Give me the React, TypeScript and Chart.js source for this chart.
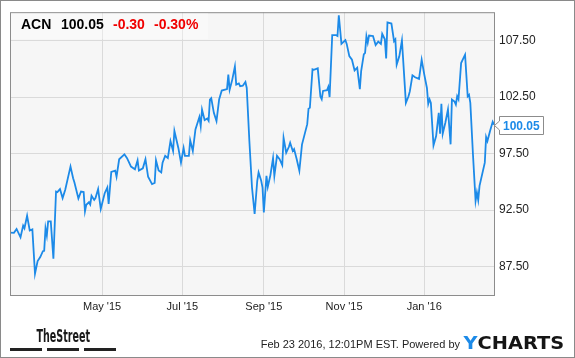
import React, { useEffect, useRef } from "react";
import { Chart, registerables } from "chart.js";

Chart.register(...registerables);

// ---- data ----
const START_DATE = "2015-02-20";
const END_DATE = "2016-02-23";

// trading day offsets (days since START_DATE)
const dayOffsets = [
  0, 3, 5, 8, 10, 11, 13, 15, 17, 19, 21, 23, 25, 26, 27, 28, 29, 31, 33, 35,
  36, 38, 40, 42, 44, 46, 48, 49, 52, 54, 56, 57, 58, 60, 61, 62, 64, 65, 67, 69,
  72, 74, 75, 77, 80, 81, 83, 87, 89, 92, 95, 97, 98, 101, 103, 105, 108, 110, 111, 113,
  115, 116, 118, 120, 122, 124, 125, 128, 130, 132, 133, 136, 137, 139, 141, 144, 145, 146, 148, 150,
  151, 152, 153, 155, 157, 159, 161, 165, 166, 167, 169, 171, 172, 174, 175, 177, 179, 180, 182, 184,
  186, 188, 189, 191, 192, 193, 195, 196, 198, 200, 201, 203, 205, 207, 208, 210, 212, 213, 215, 216,
  218, 220, 222, 224, 226, 227, 228, 230, 231, 234, 236, 237, 238, 241, 242, 243, 245, 248, 249, 250,
  251, 252, 255, 256, 258, 260, 262, 264, 266, 267, 269, 270, 271, 272, 273, 276, 278, 280, 282, 283,
  285, 286, 287, 290, 292, 293, 294, 296, 298, 301, 303, 304, 306, 308, 311, 313, 315, 317, 318, 319,
  320, 322, 324, 326, 327, 328, 329, 331, 333, 335, 336, 338, 339, 340, 341, 343, 346, 348, 349, 350,
  352, 354, 355, 356, 357, 361, 362, 363, 365, 367, 368,
];

const prices = [
  90.52, 90.5, 90.84, 90.1, 91.13, 90.9, 92.0, 90.7, 90.8, 86.88, 88.0, 88.35, 88.87, 88.9, 90.9, 90.25, 91.5, 91.5, 88.2, 94.15,
  94.1, 94.36, 93.57, 94.3, 95.33, 96.35, 95.33, 94.94, 93.54, 94.15, 94.1, 92.4, 92.98, 93.2, 93.0, 93.77, 93.4, 93.57, 94.36, 92.6,
  94.0, 94.5, 93.04, 95.89, 96.0, 95.45, 97.0, 97.44, 97.1, 96.35, 96.12, 96.9, 96.0, 96.2, 97.0, 95.45, 94.8, 94.9, 96.9, 96.0,
  95.83, 96.7, 97.3, 97.1, 98.61, 97.73, 99.5, 98.0, 96.7, 98.0, 97.3, 97.3, 98.67, 97.73, 99.64, 100.73, 99.93, 101.4, 100.46, 100.6,
  100.4, 102.28, 102.4, 101.1, 100.37, 102.28, 103.07, 103.2, 104.48, 103.15, 104.04, 105.21, 103.6, 103.7, 103.45, 103.5, 103.83, 103.3, 98.61, 94.5,
  92.16, 95.1, 95.83, 95.1, 94.5, 92.3, 95.53, 94.55, 95.6, 97.1, 95.53, 97.3, 97.0, 96.47, 98.9, 97.58, 98.08, 98.46, 97.73, 97.9,
  97.0, 95.98, 98.3, 99.2, 100.1, 101.49, 101.55, 104.95, 104.9, 105.04, 102.54, 102.3, 103.04, 103.1, 103.4, 102.5, 107.97, 107.97, 107.9, 109.73,
  108.47, 107.2, 107.53, 107.2, 106.12, 105.8, 104.86, 105.1, 103.19, 104.8, 106.27, 106.4, 107.88, 107.3, 107.94, 107.9, 107.09, 107.4, 107.2, 108.09,
  107.6, 105.92, 109.1, 109.0, 107.44, 107.6, 105.36, 106.1, 107.5, 101.98, 102.57, 103.0, 104.42, 104.25, 104.1, 105.8, 104.48, 103.3, 101.9, 102.3,
  101.98, 98.23, 99.05, 101.1, 99.26, 101.9, 99.26, 100.23, 101.4, 98.32, 102.28, 102.1, 101.84, 102.57, 102.3, 105.5, 106.24, 102.57, 102.7, 101.98,
  97.44, 93.33, 94.06, 93.4, 94.65, 96.7, 98.96, 98.61, 99.5, 100.31, 100.05,
];

const monthTickDates = ["2015-05-01", "2015-07-01", "2015-09-01", "2015-11-01", "2016-01-01"];
const monthTickLabels = ["May '15", "Jul '15", "Sep '15", "Nov '15", "Jan '16"];
const priceTicks = [87.5, 92.5, 97.5, 102.5, 107.5];

const ticker = "ACN";
const lastPrice = 100.05;
const priceChange = -0.3;
const priceChangePct = -0.3;
const timestampText = "Feb 23 2016, 12:01PM EST.";

const Y_MIN = 85;
const Y_MAX = 110;

// ---- helpers ----
const dayIndex = (d: string) => {
  const [a, b] = [d, START_DATE].map((s) => {
    const [y, m, dd] = s.split("-").map(Number);
    return Date.UTC(y, m - 1, dd);
  });
  return Math.round((a - b) / 86400000);
};

const X_MAX = dayIndex(END_DATE);
const monthTickDays = monthTickDates.map(dayIndex);

const BLUE = "#1c8ae8";
const FONT = '"Liberation Sans", Arial, Helvetica, sans-serif';

const decorPlugin = {
  id: "decor",
  beforeDraw(chart: any) {
    const { ctx, chartArea: a, width, height } = chart;
    ctx.save();
    ctx.fillStyle = "#ffffff";
    ctx.fillRect(0, 0, width, height);
    ctx.fillStyle = "#f6f6f6";
    ctx.fillRect(a.left, a.top, a.right - a.left, a.bottom - a.top);
    ctx.restore();
  },
  afterDraw(chart: any) {
    const { ctx, chartArea: a, width, height } = chart;
    ctx.save();
    // plot border
    ctx.strokeStyle = "#8c8c8c";
    ctx.lineWidth = 1;
    ctx.strokeRect(a.left + 0.5, a.top + 0.5, a.right - a.left, a.bottom - a.top);

    // header
    ctx.fillStyle = "rgba(255,255,255,0.35)";
    ctx.fillRect(a.left + 1, a.top + 1, 197, 26);
    ctx.textBaseline = "alphabetic";
    ctx.textAlign = "left";
    ctx.font = `bold 14px ${FONT}`;
    ctx.fillStyle = "#000";
    ctx.fillText(ticker, 21, 29);
    ctx.fillText(lastPrice.toFixed(2), 61, 29);
    ctx.fillStyle = "#f00000";
    ctx.fillText(priceChange.toFixed(2), 113, 29);
    ctx.fillText(priceChangePct.toFixed(2) + "%", 154, 29);

    // last value tag
    const y = Math.round(chart.scales.y.getPixelForValue(lastPrice)) + 0.5;
    const tipX = a.right + 0.5;
    const boxL = a.right + 5.5;
    const boxR = boxL + 44;
    const top = y - 9;
    const bot = y + 9;
    ctx.beginPath();
    ctx.moveTo(tipX, y);
    ctx.lineTo(boxL, y - 4.5);
    ctx.lineTo(boxL, top);
    ctx.lineTo(boxR, top);
    ctx.lineTo(boxR, bot);
    ctx.lineTo(boxL, bot);
    ctx.lineTo(boxL, y + 4.5);
    ctx.closePath();
    ctx.fillStyle = "#fff";
    ctx.fill();
    ctx.strokeStyle = "#8c8c8c";
    ctx.stroke();
    ctx.font = `bold 12px ${FONT}`;
    ctx.fillStyle = BLUE;
    ctx.fillText(lastPrice.toFixed(2), boxL + 3.5, y + 4.5);

    // footer: TheStreet
    ctx.font = `bold 18px "DejaVu Sans Condensed", ${FONT}`;
    const tsW = ctx.measureText("TheStreet").width;
    ctx.save();
    ctx.translate(36.5, 342);
    ctx.scale(53.5 / tsW, 1);
    ctx.fillStyle = "#1a1a1a";
    ctx.fillText("TheStreet", 0, 0);
    ctx.restore();
    ctx.fillStyle = "#222";
    ctx.fillRect(10, 348, 32, 3);
    ctx.fillRect(47, 348, 32, 3);
    ctx.fillRect(84, 348, 32, 3);

    // timestamp + powered by
    ctx.font = `11px ${FONT}`;
    ctx.fillStyle = "#222";
    ctx.textAlign = "right";
    ctx.fillText(`${timestampText} Powered by`, 460, 348);
    ctx.textAlign = "left";

    // YCHARTS logo
    ctx.font = `bold 18px "DejaVu Sans", ${FONT}`;
    const yW = ctx.measureText("Y").width;
    const allW = ctx.measureText("YCHARTS").width;
    ctx.save();
    ctx.translate(463.5, 348.5);
    ctx.scale(100 / allW, 1);
    ctx.fillStyle = BLUE;
    ctx.fillText("Y", 0, 0);
    ctx.fillStyle = "#151515";
    ctx.fillText("CHARTS", yW, 0);
    ctx.restore();

    // outer border
    ctx.strokeStyle = "#8a8a8a";
    ctx.strokeRect(0.5, 0.5, width - 1, height - 1);
    ctx.restore();
  },
};

export default function App() {
  const ref = useRef<HTMLCanvasElement | null>(null);

  useEffect(() => {
    if (!ref.current) return;
    Chart.defaults.font.family = FONT;
    const chart = new Chart(ref.current, {
      type: "line",
      data: {
        datasets: [
          {
            data: dayOffsets.map((d, i) => ({ x: d, y: prices[i] })),
            borderColor: BLUE,
            borderWidth: 1.8,
            pointRadius: 0,
            tension: 0,
            fill: false,
          },
        ],
      },
      options: {
        responsive: false,
        animation: false,
        parsing: false as any,
        layout: { padding: { left: 10, top: 10, right: 0, bottom: 0 } },
        plugins: { legend: { display: false }, tooltip: { enabled: false } },
        scales: {
          x: {
            type: "linear",
            min: 0,
            max: X_MAX,
            afterBuildTicks: (s: any) => {
              s.ticks = monthTickDays.map((v) => ({ value: v }));
            },
            afterFit: (s: any) => {
              s.height = 63;
            },
            grid: { color: "#dadada", drawTicks: false, lineWidth: 1 },
            border: { display: false },
            ticks: {
              autoSkip: false,
              maxRotation: 0,
              padding: 5,
              color: "#222",
              font: { size: 11, family: FONT },
              callback: (_v: any, i: number) => monthTickLabels[i],
            },
          },
          y: {
            type: "linear",
            position: "right",
            min: Y_MIN,
            max: Y_MAX,
            afterBuildTicks: (s: any) => {
              s.ticks = priceTicks.map((v) => ({ value: v }));
            },
            afterFit: (s: any) => {
              s.width = 81;
            },
            grid: { color: "#dadada", drawTicks: false, lineWidth: 1 },
            border: { display: false },
            ticks: {
              padding: 5,
              color: "#222",
              font: { size: 12, family: FONT },
              callback: (v: any) => Number(v).toFixed(2),
            },
          },
        },
      },
      plugins: [decorPlugin],
    });
    return () => chart.destroy();
  }, []);

  return (
    <div style={{ position: "absolute", left: 0, top: 0, width: 575, height: 358 }}>
      <canvas ref={ref} width={575} height={358} style={{ display: "block" }} />
    </div>
  );
}
